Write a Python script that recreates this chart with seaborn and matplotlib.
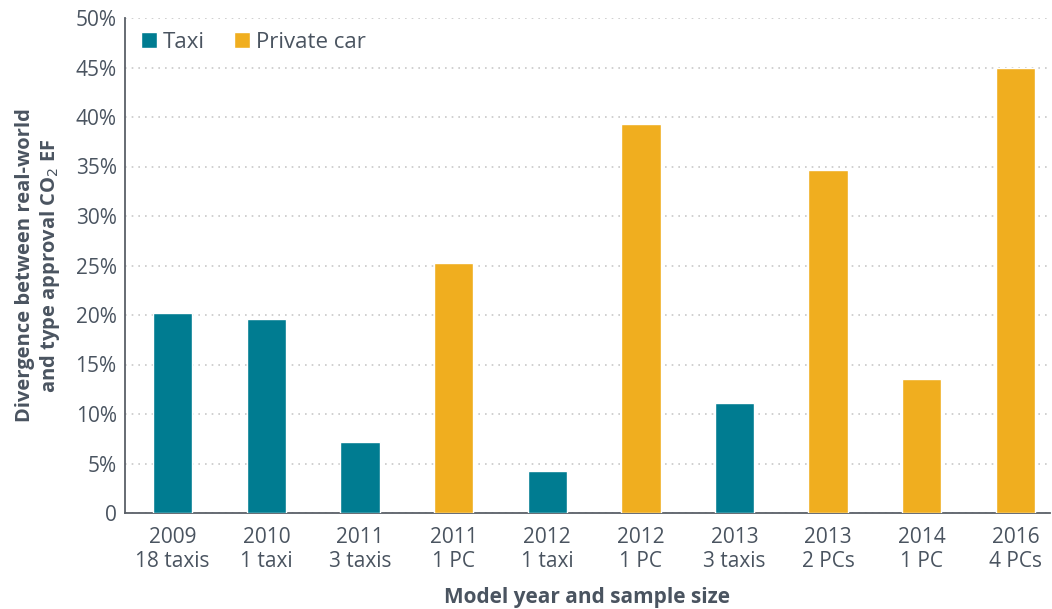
import pandas as pd
import matplotlib.pyplot as plt
import seaborn as sns

# data
years = ['2009', '2010', '2011', '2011', '2012', '2012', '2013', '2013', '2014', '2016']
samples = ['18 taxis', '1 taxi', '3 taxis', '1 PC', '1 taxi', '1 PC', '3 taxis', '2 PCs', '1 PC', '4 PCs']
vehicle = ['Taxi', 'Taxi', 'Taxi', 'Private car', 'Taxi', 'Private car', 'Taxi',
           'Private car', 'Private car', 'Private car']
divergence = [20.2, 19.6, 7.2, 25.3, 4.2, 39.3, 11.1, 34.6, 13.5, 45.0]

labels = [f'{y}\n{s}' for y, s in zip(years, samples)]
df = pd.DataFrame({'label': labels, 'type': vehicle, 'value': divergence})

sns.set_style('white')
plt.rcParams['font.family'] = ['Open Sans', 'DejaVu Sans']
txt = '#4a5460'

fig = plt.figure(figsize=(10.52, 6.09), dpi=100)
ax = fig.add_axes([125 / 1052, 96 / 609, (1050 - 125) / 1052, (513 - 18) / 609])

palette = {'Taxi': '#007c91', 'Private car': '#f0ae1f'}
sns.barplot(data=df, x='label', y='value', hue='type', order=labels,
            hue_order=['Taxi', 'Private car'], palette=palette, dodge=False,
            width=0.42, saturation=1, ax=ax, zorder=3)

ax.set_ylim(0, 50)
ax.set_xlim(-0.51, 9.37)
ax.set_yticks(range(0, 51, 5))
ax.set_yticklabels(['0'] + [f'{v}%' for v in range(5, 51, 5)])
ax.grid(axis='y', linestyle=(0, (1, 3)), color='#c8c8c8', linewidth=1.2, zorder=0)
ax.tick_params(axis='both', length=0, labelsize=15, colors=txt, pad=6)
ax.tick_params(axis='x', pad=10)

for s in ['top', 'right']:
    ax.spines[s].set_visible(False)
for s in ['left', 'bottom']:
    ax.spines[s].set_color('#5a6068')
    ax.spines[s].set_linewidth(1.3)

ax.set_xlabel('Model year and sample size', fontsize=15, fontweight='bold', color=txt, labelpad=11)
ax.set_ylabel('Divergence between real-world\nand type approval CO$_2$ EF', fontsize=14.5,
              fontweight='bold', color=txt, labelpad=10, linespacing=1.15)

leg = ax.legend(loc='upper left', ncol=2, frameon=False, fontsize=16, handlelength=0.75,
                handleheight=0.75, handletextpad=0.25, columnspacing=1.3,
                borderaxespad=0.3, bbox_to_anchor=(0.0, 1.003))
for t in leg.get_texts():
    t.set_color(txt)

fig.savefig('out.png', dpi=100)
